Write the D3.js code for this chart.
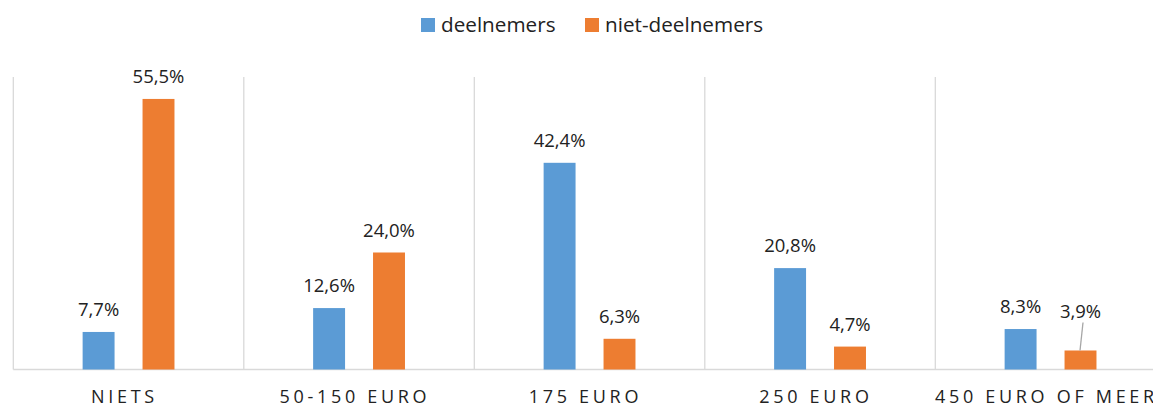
<!DOCTYPE html>
<html><head><meta charset="utf-8">
<script src="https://cdn.jsdelivr.net/npm/d3@7"></script>
<style>body{margin:0;background:#fff;} svg{display:block;}</style>
</head><body>
<script>
const categories = ["NIETS", "50-150 EURO", "175 EURO", "250 EURO", "450 EURO OF MEER"];
const seriesNames = ["deelnemers", "niet-deelnemers"];
const deelnemers = [7.7, 12.6, 42.4, 20.8, 8.3];
const nietDeelnemers = [55.5, 24.0, 6.3, 4.7, 3.9];
const colors = ["#5B9BD5", "#ED7D31"];
const yTicks = [0, 10, 20, 30, 40, 50, 60];

const W = 1153, H = 405;
const svg = d3.select("body").append("svg").attr("width", W).attr("height", H);
const font = "'Open Sans', sans-serif";

const plotLeft = 13.3, catW = 230.5;
const x0 = d3.scaleBand().domain(categories).range([plotLeft, plotLeft + catW * categories.length]).padding(0);
const x1 = d3.scaleBand().domain(seriesNames).range([0, x0.bandwidth()]).paddingInner(0.467).paddingOuter(1.157);
const y = d3.scaleLinear().domain([0, 60]).range([369.5, 77]);

const values = [deelnemers, nietDeelnemers];

// vertical category separators
const seps = categories.map((c) => x0(c));
svg.append("g").selectAll("line").data(seps).join("line")
  .attr("x1", d => d).attr("x2", d => d)
  .attr("y1", y(60)).attr("y2", y(0))
  .attr("stroke", "#D9D9D9").attr("stroke-width", 1.3);

// baseline
svg.append("line").attr("x1", plotLeft).attr("x2", W)
  .attr("y1", y(0)).attr("y2", y(0)).attr("stroke", "#D9D9D9").attr("stroke-width", 1.3);

// bars
const data = [];
categories.forEach((c, i) => seriesNames.forEach((s, j) => data.push({c, s, j, v: values[j][i]})));

svg.append("g").selectAll("rect").data(data).join("rect")
  .attr("x", d => x0(d.c) + x1(d.s))
  .attr("width", x1.bandwidth())
  .attr("y", d => y(d.v))
  .attr("height", d => y(0) - y(d.v))
  .attr("fill", d => colors[d.j]);

const fmt = v => v.toFixed(1).replace(".", ",") + "%";

// labels (the last small one lifted with leader line)
const lifted = d => d.c === "450 EURO OF MEER" && d.j === 1;
svg.append("g").selectAll("text").data(data).join("text")
  .attr("x", d => x0(d.c) + x1(d.s) + x1.bandwidth() / 2)
  .attr("y", d => y(d.v) - (lifted(d) ? 32 : 16))
  .attr("text-anchor", "middle")
  .attr("font-family", font).attr("font-size", 18.5).attr("fill", "#222")
  .text(d => fmt(d.v));

svg.append("g").selectAll("line").data(data.filter(lifted)).join("line")
  .attr("x1", d => x0(d.c) + x1(d.s) + x1.bandwidth() / 2 + 2.5)
  .attr("x2", d => x0(d.c) + x1(d.s) + x1.bandwidth() / 2 - 0.5)
  .attr("y1", d => y(d.v) - 28)
  .attr("y2", d => y(d.v))
  .attr("stroke", "#A6A6A6").attr("stroke-width", 1.3);

// x-axis category labels
const ls = 3.7;
svg.append("g").selectAll("text").data(categories).join("text")
  .attr("x", d => x0(d) + x0.bandwidth() / 2 - 6 + ls / 2)
  .attr("y", 402.5)
  .attr("text-anchor", "middle")
  .attr("font-family", font).attr("font-size", 18).attr("letter-spacing", ls + "px")
  .attr("fill", "#222")
  .text(d => d);

// legend
const legendItems = [{name: seriesNames[0], x: 421, tx: 441}, {name: seriesNames[1], x: 585, tx: 605}];
const lg = svg.append("g");
lg.selectAll("rect").data(legendItems).join("rect")
  .attr("x", d => d.x).attr("y", 18).attr("width", 14).attr("height", 14)
  .attr("fill", (d, i) => colors[i]);
lg.selectAll("text").data(legendItems).join("text")
  .attr("x", d => d.tx).attr("y", 32)
  .attr("font-family", font).attr("font-size", 20.7).attr("fill", "#222")
  .text(d => d.name);
</script>
</body></html>
